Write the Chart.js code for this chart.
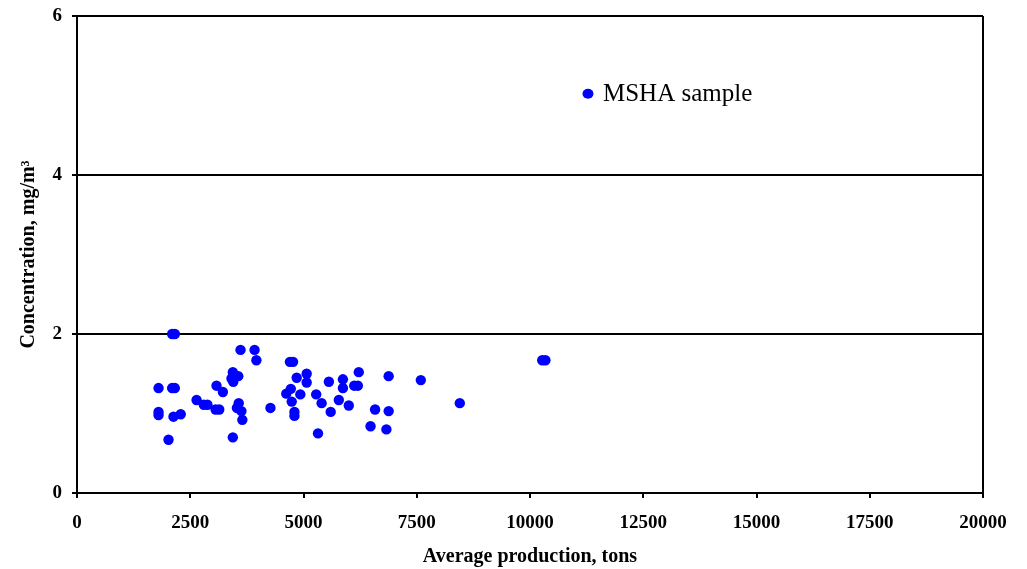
<!DOCTYPE html>
<html>
<head>
<meta charset="utf-8">
<script src="https://cdn.jsdelivr.net/npm/chart.js@4/dist/chart.umd.min.js"></script>
<style>
  html, body { margin: 0; padding: 0; background: #fff; }
  #wrap { width: 1027px; height: 569px; position: relative; }
</style>
</head>
<body>
<div id="wrap"><canvas id="chart"></canvas></div>
<script>
// ---------------------------------------------------------------------------
// Data
// ---------------------------------------------------------------------------
const SERIES_LABEL = 'MSHA sample';

const production = [
    1800, 1800, 1800, 2020, 2100, 2160, 2100, 2160, 2130, 2290,
    2640, 2800, 2880, 3060, 3140, 3080, 3220, 3410, 3440, 3450,
    3440, 3530, 3560, 3570, 3610, 3630, 3650, 3920, 3960, 4270,
    4620, 4700, 4770, 4720, 4740, 4800, 4800, 4850, 4930, 5070,
    5070, 5280, 5320, 5400, 5560, 5600, 5780, 5870, 5870, 6000,
    6120, 6200, 6220, 6480, 6580, 6830, 6880, 6880, 7590, 8450,
    10270, 10340,
];

const concentration = [
    1.32, 1.02, 0.98, 0.67, 2.00, 2.00, 1.32, 1.32, 0.96, 0.99,
    1.17, 1.11, 1.11, 1.05, 1.05, 1.35, 1.27, 1.44, 1.52, 1.40,
    0.70, 1.07, 1.47, 1.13, 1.80, 1.03, 0.92, 1.80, 1.67, 1.07,
    1.25, 1.65, 1.65, 1.31, 1.15, 1.02, 0.97, 1.45, 1.24, 1.50,
    1.39, 1.24, 0.75, 1.13, 1.40, 1.02, 1.17, 1.43, 1.32, 1.10,
    1.35, 1.35, 1.52, 0.84, 1.05, 0.80, 1.47, 1.03, 1.42, 1.13,
    1.67, 1.67,
];

const X_TITLE = 'Average production, tons';
const Y_TITLE = 'Concentration, mg/m\u00b3';

// ---------------------------------------------------------------------------
// Plugins: right frame line + in-plot legend
// ---------------------------------------------------------------------------
const framePlugin = {
    id: 'frame',
    afterDraw(chart) {
        const { ctx, chartArea: a } = chart;
        ctx.save();
        ctx.strokeStyle = '#000';
        ctx.lineWidth = 2;
        ctx.beginPath();
        ctx.moveTo(a.right, a.top);
        ctx.lineTo(a.right, a.bottom + 5);
        ctx.stroke();
        ctx.restore();
    },
};

const legendPlugin = {
    id: 'inLegend',
    afterDraw(chart) {
        const { ctx, chartArea: a } = chart;
        const x = a.left + (a.right - a.left) * 0.564;
        const y = a.top + (a.bottom - a.top) * 0.163;
        ctx.save();
        ctx.fillStyle = '#0000ff';
        ctx.beginPath();
        ctx.ellipse(x, y, 5.5, 5, 0, 0, Math.PI * 2);
        ctx.fill();
        ctx.fillStyle = '#000';
        ctx.font = '25px "Liberation Serif", "Times New Roman", serif';
        ctx.textBaseline = 'middle';
        ctx.fillText(chart.data.datasets[0].label, x + 15, y + 1);
        ctx.restore();
    },
};

// ---------------------------------------------------------------------------
// Chart
// ---------------------------------------------------------------------------
const tickFont = { family: '"Liberation Serif", "Times New Roman", serif', size: 19, weight: 'bold' };
const titleFont = { family: '"Liberation Serif", "Times New Roman", serif', size: 20, weight: 'bold' };

new Chart(document.getElementById('chart'), {
    type: 'scatter',
    data: {
        datasets: [{
            label: SERIES_LABEL,
            data: production.map((x, i) => ({ x, y: concentration[i] })),
            backgroundColor: '#0000ff',
            borderColor: '#0000ff',
            borderWidth: 0,
            pointRadius: 5.2,
            pointHoverRadius: 5.2,
        }],
    },
    options: {
        responsive: true,
        maintainAspectRatio: false,
        animation: false,
        layout: { padding: { top: 16, right: 44, bottom: 0, left: 0 } },
        plugins: {
            legend: { display: false },
            tooltip: { enabled: false },
        },
        scales: {
            x: {
                type: 'linear',
                min: 0, max: 20000,
                afterFit: s => { s.height = 76; },
                ticks: {
                    stepSize: 2500,
                    color: '#000',
                    font: tickFont,
                    padding: 14,
                    maxRotation: 0,
                    callback: v => String(v),
                },
                grid: { drawOnChartArea: false, color: '#000', lineWidth: 2, tickLength: 5 },
                border: { color: '#000', width: 2 },
                title: { display: true, text: X_TITLE, color: '#000', font: titleFont, padding: { top: 18, bottom: 0 } },
            },
            y: {
                min: 0, max: 6,
                afterFit: s => { s.width = 77; s.paddingTop = 0; },
                ticks: {
                    stepSize: 2,
                    color: '#000',
                    font: tickFont,
                    padding: 10,
                },
                grid: { color: '#000', lineWidth: 2, tickLength: 5 },
                border: { color: '#000', width: 2 },
                title: { display: true, text: Y_TITLE, color: '#000', font: titleFont, padding: { top: 17, bottom: 0 } },
            },
        },
    },
    plugins: [framePlugin, legendPlugin],
});
</script>
</body>
</html>
